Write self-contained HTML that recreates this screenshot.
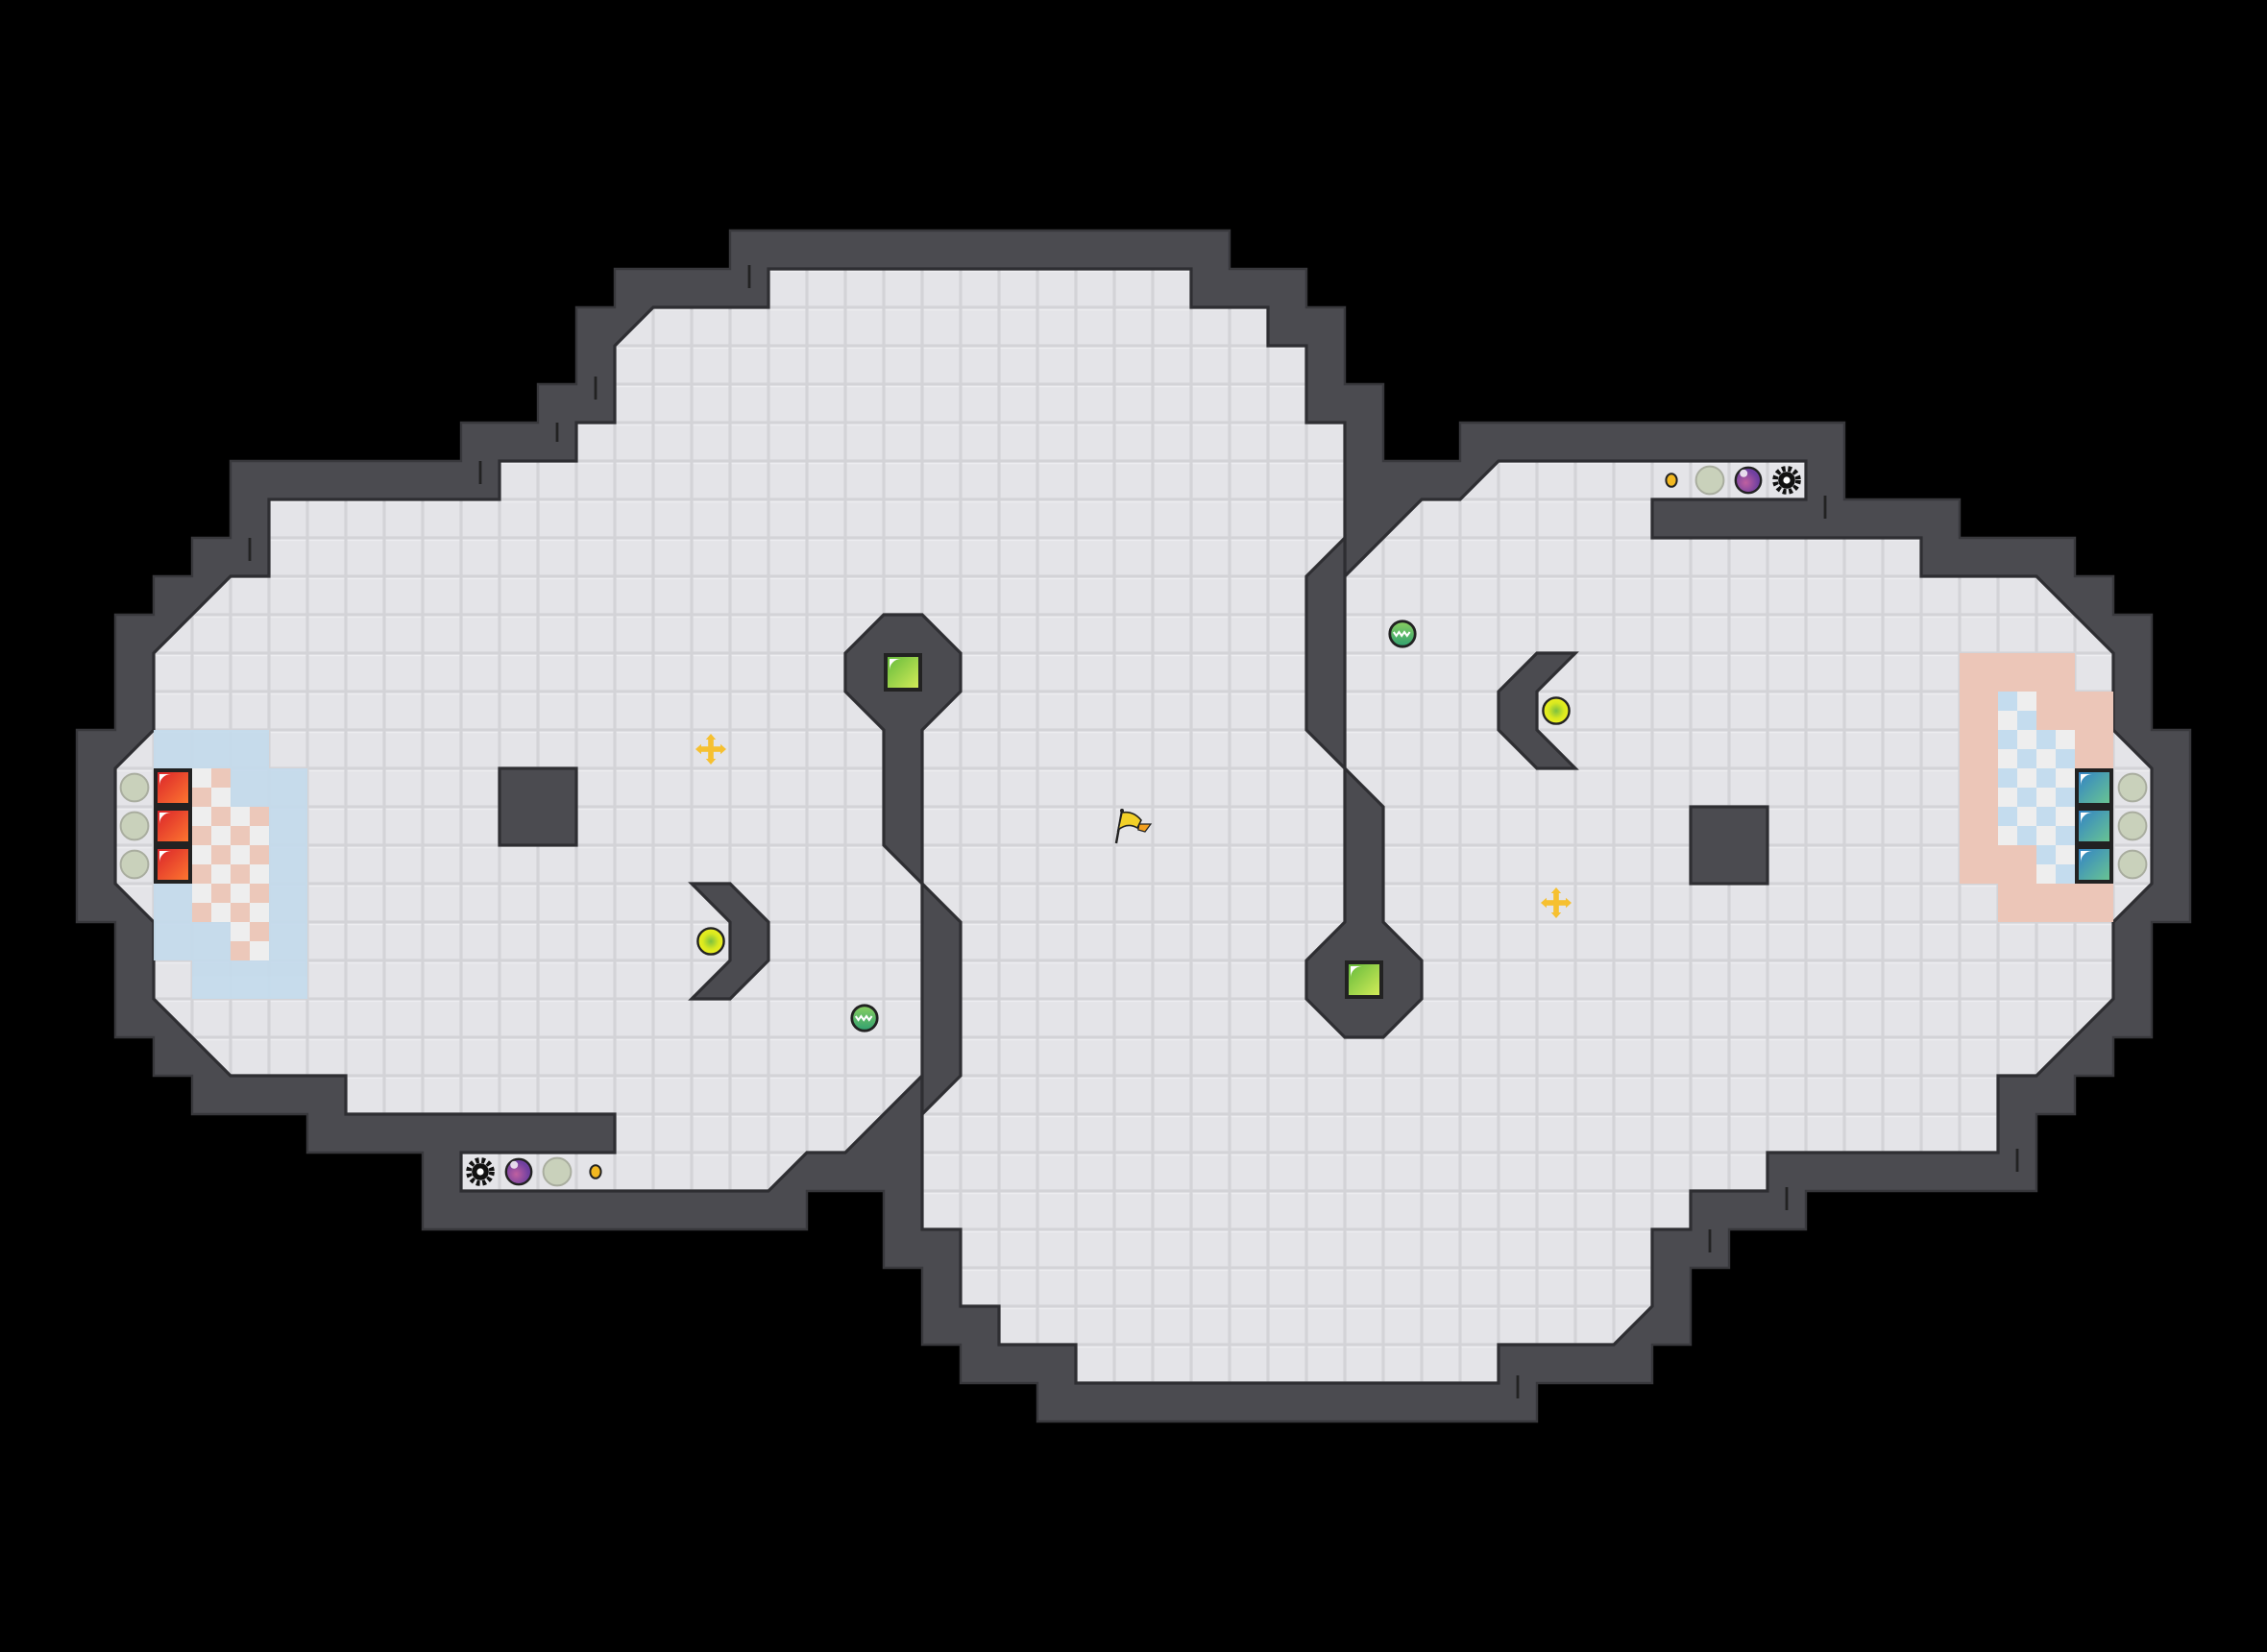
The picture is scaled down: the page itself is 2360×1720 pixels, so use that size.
<!DOCTYPE html>
<html><head><meta charset="utf-8">
<style>html,body{margin:0;padding:0;background:#000;}svg{display:block;}</style></head>
<body>
<svg width="2360" height="1720" viewBox="0 0 59 43" xmlns="http://www.w3.org/2000/svg">
<defs>
<pattern id="tile" patternUnits="userSpaceOnUse" width="1" height="1">
<rect width="1" height="1" fill="#d3d3d7"/>
<rect x="0.04" y="0.04" width="0.92" height="0.92" fill="#e4e4e8"/>
<rect x="0.04" y="0.04" width="0.92" height="0.04" fill="#ededf0"/>
</pattern>
<pattern id="ckL" patternUnits="userSpaceOnUse" width="1" height="1">
<rect width="1" height="1" fill="#eeeeee"/>
<rect x="0.5" y="0" width="0.5" height="0.5" fill="#ecc8ba"/>
<rect x="0" y="0.5" width="0.5" height="0.5" fill="#ecc8ba"/>
</pattern>
<pattern id="ckR" patternUnits="userSpaceOnUse" width="1" height="1">
<rect width="1" height="1" fill="#eeeeee"/>
<rect x="0" y="0" width="0.5" height="0.5" fill="#c4dcee"/>
<rect x="0.5" y="0.5" width="0.5" height="0.5" fill="#c4dcee"/>
</pattern>
<linearGradient id="gGreen" x1="0" y1="0" x2="1" y2="1"><stop offset="0" stop-color="#5fb83a"/><stop offset="1" stop-color="#d8ee5a"/></linearGradient>
<linearGradient id="gRed" x1="0" y1="0" x2="1" y2="1"><stop offset="0" stop-color="#d8202a"/><stop offset="1" stop-color="#ff7a30"/></linearGradient>
<linearGradient id="gBlue" x1="0" y1="0" x2="1" y2="1"><stop offset="0" stop-color="#2f7fc8"/><stop offset="1" stop-color="#6cc890"/></linearGradient>
<radialGradient id="gYel"><stop offset="0" stop-color="#7cc040"/><stop offset="0.6" stop-color="#d8e820"/><stop offset="1" stop-color="#eef020"/></radialGradient>
<radialGradient id="gPur" cx="0.4" cy="0.6"><stop offset="0" stop-color="#c060a0"/><stop offset="1" stop-color="#7040a0"/></radialGradient>
<linearGradient id="gSph" x1="0" y1="0" x2="0" y2="1"><stop offset="0" stop-color="#8ad060"/><stop offset="1" stop-color="#30a070"/></linearGradient>
</defs>
<rect width="59" height="43" fill="#000"/>
<!-- outer walls -->
<polygon fill="#4b4b50" stroke="#38383c" stroke-width="0.06" points="19,6 32,6 32,7 34,7 34,8 35,8 35,10 36,10 36,12 38,12 38,11 48,11 48,13 51,13 51,14 54,14 54,15 55,15 55,16 56,16 56,19 57,19 57,24 56,24 56,27 55,27 55,28 54,28 54,29 53,29 53,31 47,31 47,32 45,32 45,33 44,33 44,35 43,35 43,36 40,36 40,37 27,37 27,36 25,36 25,35 24,35 24,33 23,33 23,31 21,31 21,32 11,32 11,30 8,30 8,29 5,29 5,28 4,28 4,27 3,27 3,24 2,24 2,19 3,19 3,16 4,16 4,15 5,15 5,14 6,14 6,12 12,12 12,11 14,11 14,10 15,10 15,8 16,8 16,7 19,7"/>
<!-- floor -->
<polygon fill="url(#tile)" stroke="#2e2e32" stroke-width="0.08" points="20,7 31,7 31,8 33,8 33,9 34,9 34,11 35,11 35,15 37,13 38,13 39,12 47,12 47,13 43,13 43,14 50,14 50,15 53,15 55,17 55,19 56,20 56,23 55,24 55,26 53,28 52,28 52,30 46,30 46,31 44,31 44,32 43,32 43,34 42,35 39,35 39,36 28,36 28,35 26,35 26,34 25,34 25,32 24,32 24,28 22,30 21,30 20,31 12,31 12,30 16,30 16,29 9,29 9,28 6,28 4,26 4,24 3,23 3,20 4,19 4,17 6,15 7,15 7,13 13,13 13,12 15,12 15,11 16,11 16,9 17,8 20,8"/>
<!-- left zone blue -->
<g fill="#c5dbec" opacity="0.95">
<rect x="4" y="19" width="3" height="1"/>
<rect x="6" y="20" width="2" height="1"/>
<rect x="7" y="21" width="1" height="2"/>
<rect x="4" y="23" width="1" height="1"/><rect x="7" y="23" width="1" height="1"/>
<rect x="4" y="24" width="2" height="1"/><rect x="7" y="24" width="1" height="1"/>
<rect x="5" y="25" width="3" height="1"/>
</g>
<g fill="url(#ckL)">
<rect x="5" y="20" width="1" height="1"/>
<rect x="5" y="21" width="2" height="3"/>
<rect x="6" y="24" width="1" height="1"/>
</g>
<!-- right zone pink -->
<g fill="#ecc6b8">
<rect x="51" y="17" width="3" height="1"/>
<rect x="51" y="18" width="1" height="1"/><rect x="53" y="18" width="2" height="1"/>
<rect x="51" y="19" width="1" height="1"/><rect x="54" y="19" width="1" height="1"/>
<rect x="51" y="20" width="1" height="2"/>
<rect x="51" y="22" width="2" height="1"/>
<rect x="52" y="23" width="3" height="1"/>
</g>
<g fill="url(#ckR)">
<rect x="52" y="18" width="1" height="1"/>
<rect x="52" y="19" width="2" height="3"/>
<rect x="53" y="22" width="1" height="1"/>
</g>
<!-- interior walls -->
<g fill="#4b4b50" stroke="#2e2e32" stroke-width="0.08">
<polygon points="23,16 24,16 25,17 25,18 24,19 24,23 23,22 23,19 22,18 22,17"/>
<polygon points="24,23 25,24 25,28 24,29"/>
<polygon points="35,14 35,20 34,19 34,15"/>
<polygon points="35,20 36,21 36,24 37,25 37,26 36,27 35,27 34,26 34,25 35,24"/>
<polygon points="18,23 19,23 20,24 20,25 19,26 18,26 19,25 19,24"/>
<polygon points="40,17 41,17 40,18 40,19 41,20 40,20 39,19 39,18"/>
<rect x="13" y="20" width="2" height="2"/>
<rect x="44" y="21" width="2" height="2"/>
</g>
<!-- wall tick marks -->
<g stroke="#222" stroke-width="0.07">
<line x1="19.5" y1="6.9" x2="19.5" y2="7.5"/><line x1="12.5" y1="12" x2="12.5" y2="12.6"/>
<line x1="15.5" y1="9.8" x2="15.5" y2="10.4"/><line x1="14.5" y1="11" x2="14.5" y2="11.5"/>
<line x1="6.5" y1="14" x2="6.5" y2="14.6"/><line x1="47.5" y1="12.9" x2="47.5" y2="13.5"/>
<line x1="52.5" y1="29.9" x2="52.5" y2="30.5"/><line x1="46.5" y1="30.9" x2="46.5" y2="31.5"/>
<line x1="44.5" y1="32" x2="44.5" y2="32.6"/><line x1="39.5" y1="35.8" x2="39.5" y2="36.4"/>
</g>
<!-- gates -->
<g stroke="#222" stroke-width="0.1">
<rect x="23.05" y="17.05" width="0.9" height="0.9" fill="url(#gGreen)"/>
<rect x="35.05" y="25.05" width="0.9" height="0.9" fill="url(#gGreen)"/>
<rect x="4.05" y="20.05" width="0.9" height="0.9" fill="url(#gRed)"/>
<rect x="4.05" y="21.05" width="0.9" height="0.9" fill="url(#gRed)"/>
<rect x="4.05" y="22.05" width="0.9" height="0.9" fill="url(#gRed)"/>
<rect x="54.05" y="20.05" width="0.9" height="0.9" fill="url(#gBlue)"/>
<rect x="54.05" y="21.05" width="0.9" height="0.9" fill="url(#gBlue)"/>
<rect x="54.05" y="22.05" width="0.9" height="0.9" fill="url(#gBlue)"/>
</g>
<g fill="#fff">
<path d="M23.15,17.15 h0.3 a0.3,0.3 0 0 0 -0.3,0.3z"/><path d="M35.15,25.15 h0.3 a0.3,0.3 0 0 0 -0.3,0.3z"/>
<path d="M4.15,20.15 h0.3 a0.3,0.3 0 0 0 -0.3,0.3z"/><path d="M4.15,21.15 h0.3 a0.3,0.3 0 0 0 -0.3,0.3z"/><path d="M4.15,22.15 h0.3 a0.3,0.3 0 0 0 -0.3,0.3z"/>
<path d="M54.15,20.15 h0.3 a0.3,0.3 0 0 0 -0.3,0.3z"/><path d="M54.15,21.15 h0.3 a0.3,0.3 0 0 0 -0.3,0.3z"/><path d="M54.15,22.15 h0.3 a0.3,0.3 0 0 0 -0.3,0.3z"/>
</g>
<!-- gray circles -->
<g fill="#c9d1bb" stroke="#a9ad9f" stroke-width="0.05">
<circle cx="3.5" cy="20.5" r="0.36"/><circle cx="3.5" cy="21.5" r="0.36"/><circle cx="3.5" cy="22.5" r="0.36"/>
<circle cx="55.5" cy="20.5" r="0.36"/><circle cx="55.5" cy="21.5" r="0.36"/><circle cx="55.5" cy="22.5" r="0.36"/>
<circle cx="14.5" cy="30.5" r="0.36"/><circle cx="44.5" cy="12.5" r="0.36"/>
</g>
<!-- purple balls -->
<g fill="url(#gPur)" stroke="#222" stroke-width="0.06">
<circle cx="13.5" cy="30.5" r="0.33"/><circle cx="45.5" cy="12.5" r="0.33"/>
</g>
<g fill="#fff" opacity="0.8"><circle cx="13.38" cy="30.32" r="0.1"/><circle cx="45.38" cy="12.32" r="0.1"/></g>
<!-- spiky balls -->
<g fill="#111">
<circle cx="12.5" cy="30.5" r="0.22"/><circle cx="12.5" cy="30.5" r="0.3" fill="none" stroke="#111" stroke-width="0.14" stroke-dasharray="0.09 0.07"/>
<circle cx="46.5" cy="12.5" r="0.22"/><circle cx="46.5" cy="12.5" r="0.3" fill="none" stroke="#111" stroke-width="0.14" stroke-dasharray="0.09 0.07"/>
</g>
<g fill="#fff"><circle cx="12.5" cy="30.5" r="0.09"/><circle cx="46.5" cy="12.5" r="0.09"/></g>
<!-- small yellow dots -->
<g fill="#f2b820" stroke="#222" stroke-width="0.05">
<ellipse cx="15.5" cy="30.5" rx="0.14" ry="0.17"/><ellipse cx="43.5" cy="12.5" rx="0.14" ry="0.17"/>
</g>
<!-- yellow balls -->
<g fill="url(#gYel)" stroke="#222" stroke-width="0.06">
<circle cx="18.5" cy="24.5" r="0.34"/><circle cx="40.5" cy="18.5" r="0.34"/>
</g>
<!-- green spheres -->
<g stroke="#222" stroke-width="0.07" fill="url(#gSph)">
<circle cx="22.5" cy="26.5" r="0.33"/><circle cx="36.5" cy="16.5" r="0.33"/>
</g>
<g fill="none" stroke="#fff" stroke-width="0.05">
<path d="M22.27,26.45 l0.07,0.1 l0.07,-0.1 l0.07,0.1 l0.07,-0.1 l0.07,0.1 l0.07,-0.1"/>
<path d="M36.27,16.45 l0.07,0.1 l0.07,-0.1 l0.07,0.1 l0.07,-0.1 l0.07,0.1 l0.07,-0.1"/>
</g>
<!-- boosts -->
<g fill="#f6c030">
<g transform="translate(18.5,19.5)"><rect x="-0.07" y="-0.3" width="0.14" height="0.6"/><rect x="-0.3" y="-0.07" width="0.6" height="0.14"/><polygon points="0,-0.4 -0.13,-0.25 0.13,-0.25"/><polygon points="0,0.4 -0.13,0.25 0.13,0.25"/><polygon points="-0.4,0 -0.25,-0.13 -0.25,0.13"/><polygon points="0.4,0 0.25,-0.13 0.25,0.13"/></g>
<g transform="translate(40.5,23.5)"><rect x="-0.07" y="-0.3" width="0.14" height="0.6"/><rect x="-0.3" y="-0.07" width="0.6" height="0.14"/><polygon points="0,-0.4 -0.13,-0.25 0.13,-0.25"/><polygon points="0,0.4 -0.13,0.25 0.13,0.25"/><polygon points="-0.4,0 -0.25,-0.13 -0.25,0.13"/><polygon points="0.4,0 0.25,-0.13 0.25,0.13"/></g>
</g>
<!-- flag -->
<g>
<line x1="29.05" y1="21.95" x2="29.2" y2="21.1" stroke="#222" stroke-width="0.06"/>
<path d="M29.2,21.15 Q29.5,21.1 29.7,21.35 L29.6,21.55 Q29.35,21.4 29.1,21.6 Z" fill="#f2d028" stroke="#222" stroke-width="0.04"/>
<path d="M29.65,21.45 L29.95,21.45 L29.8,21.65 L29.62,21.6 Z" fill="#f2a020" stroke="#222" stroke-width="0.03"/>
<circle cx="29.2" cy="21.1" r="0.05" fill="#222"/>
</g>
</svg>
</body></html>
